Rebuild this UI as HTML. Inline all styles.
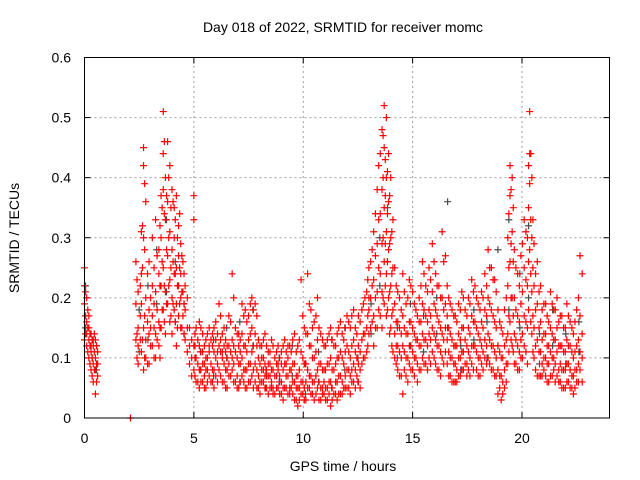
<!DOCTYPE html>
<html><head><meta charset="utf-8"><style>
body{margin:0;background:#fff}
svg{display:block;font-family:"Liberation Sans",sans-serif}
</style></head><body>
<svg id="chart" width="640" height="480">
<text x="343" y="32" text-anchor="middle" font-size="14">Day 018 of 2022, SRMTID for receiver momc</text>
<text x="343" y="471" text-anchor="middle" font-size="14">GPS time / hours</text>
<text transform="translate(19,238) rotate(-90)" text-anchor="middle" font-size="14">SRMTID / TECUs</text>
<g id="grid"></g><g id="ticks"></g><g id="gray"></g><g id="red"></g>
<rect x="84.5" y="57.5" width="525" height="360.5" fill="none" stroke="#000" stroke-width="1"/>
</svg>
<script>
const xTicks=[0,5,10,15,20];
const yTicks=[0,0.1,0.2,0.3,0.4,0.5,0.6];
const yTickLabels=["0","0.1","0.2","0.3","0.4","0.5","0.6"];
const redT=[0,0.1,0.2,0.3,0.4,0.5,0.6,2.1,2.35,2.45,2.6,2.7,2.8,2.95,3.1,3.25,3.4,3.5,3.6,3.7,3.8,3.9,4.0,4.1,4.2,4.3,4.4,4.5,4.6,4.8,4.9,5.0,5.1,5.25,5.4,5.55,5.7,5.85,6.0,6.15,6.3,6.45,6.6,6.75,6.9,7.05,7.2,7.35,7.5,7.65,7.8,7.95,8.1,8.25,8.4,8.55,8.7,8.85,9.0,9.15,9.3,9.45,9.6,9.75,9.9,10.05,10.2,10.35,10.5,10.65,10.8,10.95,11.1,11.25,11.4,11.55,11.7,11.85,12.0,12.15,12.3,12.45,12.6,12.75,12.9,13.0,13.15,13.3,13.45,13.6,13.7,13.8,13.9,14.0,14.1,14.25,14.4,14.55,14.7,14.85,15.0,15.15,15.3,15.45,15.6,15.75,15.9,16.05,16.2,16.35,16.5,16.65,16.8,16.95,17.1,17.25,17.4,17.55,17.7,17.85,18.0,18.15,18.3,18.45,18.6,18.75,18.9,19.05,19.2,19.35,19.45,19.55,19.65,19.8,19.95,20.1,20.25,20.35,20.45,20.55,20.7,20.85,21.0,21.15,21.3,21.45,21.6,21.75,21.9,22.05,22.2,22.35,22.5,22.65,22.75];
const redY=[[.25,.19,.13,.22],[.16,.12,.20,.14],[.15,.10,.13,.17],[.12,.08,.14,.11],[.09,.13,.06,.12],[.10,.04,.13,.08],[.11,.07,.09],[0.0],[.26,.19,.13],[.21,.12,.15,.09],[.31,.19,.11,.24],[.45,.42,.30,.15,.08],[.36,.20,.10,.13],[.26,.14,.09,.18],[.30,.17,.12,.22],[.33,.21,.14,.10],[.28,.16,.24,.12],[.37,.22,.15,.30],[.51,.44,.38,.25,.18],[.40,.33,.21,.14],[.46,.36,.27,.19],[.42,.31,.23,.16],[.38,.28,.20,.14],[.35,.30,.24,.18],[.37,.25,.19,.12],[.32,.22,.27,.17],[.29,.24,.20,.15],[.26,.21,.17],[.22,.18,.13],[.12,.09,.15],[.13,.07,.10],[.37,.33,.12,.08],[.15,.10,.06],[.16,.12,.08,.05],[.14,.09,.11,.06],[.13,.08,.10,.05],[.15,.11,.07,.12],[.12,.08,.14,.06],[.16,.10,.07,.13],[.19,.12,.08],[.14,.10,.06,.11],[.13,.08,.11,.05],[.17,.12,.07,.09],[.24,.13,.08,.10],[.15,.11,.06],[.12,.09,.05,.14],[.19,.14,.10,.07],[.18,.12,.08,.05],[.17,.13,.09,.06],[.20,.15,.11,.07],[.19,.14,.09,.06],[.13,.10,.07,.05],[.12,.08,.06,.10],[.14,.09,.05,.07],[.11,.07,.04,.09],[.13,.08,.05,.06],[.10,.07,.04],[.12,.08,.05,.09],[.11,.06,.04,.09],[.13,.09,.05],[.10,.07,.04,.12],[.11,.08,.05],[.14,.09,.06,.03],[.12,.07,.05,.02],[.23,.11,.06,.04],[.15,.09,.05,.03],[.24,.14,.08,.05],[.18,.12,.07,.04],[.16,.10,.06,.03],[.20,.13,.08,.05],[.14,.09,.05,.03],[.12,.08,.04,.06],[.13,.09,.05,.03],[.15,.10,.06,.02],[.12,.08,.04],[.14,.10,.06,.03],[.16,.11,.07,.04],[.13,.09,.05],[.17,.12,.08,.05],[.15,.10,.07,.04],[.18,.13,.09,.06],[.14,.10,.07],[.16,.11,.08,.05],[.19,.14,.10],[.21,.15,.11],[.25,.18,.14,.20],[.28,.22,.16],[.34,.27,.20,.15],[.42,.33,.25,.18],[.48,.38,.29,.21,.15],[.52,.45,.35,.26,.19],[.50,.40,.31,.24,.17],[.44,.36,.28,.20],[.40,.30,.22,.15],[.33,.25,.18,.11],[.22,.16,.12,.09],[.20,.15,.11,.07],[.24,.17,.12,.04],[.19,.14,.10,.07],[.23,.16,.12,.09],[.21,.15,.11,.08],[.18,.13,.10],[.20,.16,.12,.08],[.26,.19,.14,.10],[.22,.17,.13,.09],[.25,.18,.14,.10],[.29,.21,.15,.11],[.24,.18,.13,.09],[.22,.16,.12,.08],[.31,.20,.14,.10],[.27,.19,.15,.11],[.20,.15,.11,.07],[.18,.13,.10,.06],[.17,.12,.09,.06],[.19,.14,.10,.07],[.21,.15,.11,.08],[.18,.13,.09],[.20,.15,.11,.08],[.23,.17,.12,.09],[.22,.16,.12],[.19,.14,.10,.07],[.21,.16,.12,.09],[.24,.18,.13,.10],[.28,.20,.14,.10],[.25,.18,.12,.08],[.23,.16,.11,.07],[.18,.12,.08,.04],[.15,.10,.07,.03],[.18,.12,.08,.05],[.30,.22,.14,.09],[.42,.37,.26,.16],[.40,.31,.20,.12],[.28,.20,.14,.09],[.24,.17,.12,.08],[.27,.19,.13,.10],[.33,.25,.17,.12],[.30,.22,.15,.09],[.51,.44,.39,.28],[.40,.30,.21,.14],[.29,.22,.15,.10],[.26,.19,.13,.07],[.22,.16,.11,.07],[.19,.14,.10,.08],[.17,.12,.09,.06],[.21,.15,.11,.07],[.18,.13,.10,.08],[.20,.15,.11,.07],[.17,.12,.09,.06],[.15,.11,.08,.05],[.19,.13,.09,.06],[.16,.12,.08,.05],[.14,.10,.07,.04],[.18,.12,.08,.06],[.27,.17,.11,.08],[.24,.14,.10,.06]];
const redT2=[0.05,0.15,0.25,0.35,0.45,0.55,2.4,2.55,2.65,2.75,2.88,3.02,3.18,3.32,3.45,3.55,3.65,3.75,3.85,3.95,4.05,4.15,4.25,4.35,4.45,4.55,4.7,5.05,5.18,5.32,5.48,5.62,5.78,5.92,6.08,6.22,6.38,6.52,6.68,6.82,6.98,7.12,7.28,7.42,7.58,7.72,7.88,8.02,8.18,8.32,8.48,8.62,8.78,8.92,9.08,9.22,9.38,9.52,9.68,9.82,9.98,10.12,10.28,10.42,10.58,10.72,10.88,11.02,11.18,11.32,11.48,11.62,11.78,11.92,12.08,12.22,12.38,12.52,12.68,12.82,12.95,13.08,13.22,13.38,13.52,13.65,13.75,13.85,13.95,14.05,14.18,14.32,14.48,14.62,14.78,14.92,15.08,15.22,15.38,15.52,15.68,15.82,15.98,16.12,16.28,16.42,16.58,16.72,16.88,17.02,17.18,17.32,17.48,17.62,17.78,17.92,18.08,18.22,18.38,18.52,18.68,18.82,18.98,19.12,19.28,19.4,19.5,19.6,19.72,19.88,20.02,20.18,20.3,20.4,20.5,20.62,20.78,20.92,21.08,21.22,21.38,21.52,21.68,21.82,21.98,22.12,22.28,22.42,22.58,22.7];
const redY2=[[.21,.17,.14],[.18,.11,.15],[.14,.12,.09],[.13,.10,.07],[.11,.08,.14],[.12,.06,.09],[.23,.14,.10],[.17,.13,.22],[.32,.25,.13],[.39,.28,.17,.10],[.24,.16,.09],[.20,.12,.15],[.25,.15,.10,.19],[.27,.18,.13],[.32,.22,.15,.10],[.35,.26,.18],[.46,.34,.22,.16],[.37,.28,.19],[.40,.30,.22],[.35,.25,.17],[.36,.26,.19],[.33,.24,.16],[.30,.22,.15],[.34,.25,.19],[.27,.21,.15],[.24,.19,.14],[.20,.15,.11],[.14,.10,.07,.12],[.13,.09,.06],[.15,.11,.08,.06],[.12,.09,.07,.05],[.14,.10,.06,.08],[.13,.09,.06],[.15,.11,.08,.05],[.14,.09,.06,.11],[.17,.11,.07,.13],[.15,.09,.06,.12],[.12,.08,.05,.10],[.16,.11,.07],[.20,.12,.09,.06],[.14,.10,.07,.05],[.13,.09,.06,.11],[.17,.12,.08,.06],[.16,.11,.08,.05],[.19,.14,.09,.06],[.18,.12,.08,.05],[.17,.12,.08,.05],[.12,.09,.06,.04],[.13,.08,.06,.10],[.12,.08,.05,.07],[.11,.07,.05,.09],[.12,.08,.05,.04],[.11,.07,.05,.09],[.10,.07,.04,.06],[.12,.08,.05,.03],[.11,.07,.05,.09],[.12,.08,.05,.04],[.13,.09,.06,.04],[.11,.07,.05,.03],[.13,.08,.05,.03],[.17,.10,.06,.04],[.14,.09,.06,.03],[.19,.12,.07,.05],[.15,.10,.06,.04],[.17,.11,.07,.04],[.15,.09,.06,.03],[.13,.08,.05,.04],[.12,.08,.05,.03],[.14,.09,.06,.04],[.13,.08,.05,.03],[.12,.09,.06,.04],[.15,.10,.07,.04],[.14,.10,.06,.04],[.15,.11,.07,.05],[.16,.11,.08,.05],[.17,.12,.08,.06],[.15,.11,.08,.05],[.17,.12,.09,.06],[.18,.13,.09],[.20,.14,.10],[.23,.17,.12],[.26,.20,.15],[.31,.23,.17,.12],[.38,.29,.21,.15],[.44,.34,.24,.17],[.47,.40,.30,.20],[.43,.37,.29,.22],[.41,.34,.26,.18],[.37,.29,.21,.14],[.31,.24,.17,.12],[.25,.19,.14,.10],[.21,.16,.12,.08],[.18,.14,.10,.07],[.21,.15,.11,.08],[.20,.14,.10,.06],[.22,.16,.12,.08],[.19,.14,.10,.07],[.17,.13,.09,.06],[.22,.16,.12,.08],[.24,.18,.13,.09],[.21,.16,.12,.08],[.23,.17,.13,.09],[.26,.19,.14,.10],[.22,.17,.12,.08],[.20,.15,.11,.07],[.26,.18,.13,.09],[.22,.17,.13,.09],[.19,.14,.10,.07],[.17,.12,.09,.06],[.16,.12,.08,.06],[.18,.13,.10,.07],[.20,.15,.11,.08],[.17,.12,.09,.07],[.19,.14,.10,.07],[.21,.16,.12,.08],[.20,.15,.11,.08],[.18,.13,.10,.07],[.20,.15,.11,.08],[.22,.17,.12,.09],[.25,.19,.13,.09],[.23,.17,.12,.08],[.21,.15,.10,.07],[.16,.11,.07,.05],[.14,.10,.06,.04],[.20,.13,.09,.06],[.34,.25,.17,.11],[.38,.29,.20,.13],[.35,.26,.17,.11],[.25,.18,.13,.09],[.22,.16,.11,.08],[.29,.21,.14,.10],[.31,.23,.16,.11],[.42,.35,.26,.18],[.44,.33,.24,.16],[.33,.25,.17,.11],[.24,.18,.12,.08],[.21,.15,.11,.07],[.18,.13,.09,.07],[.19,.14,.10,.07],[.16,.12,.09,.06],[.19,.14,.10,.07],[.18,.13,.09,.06],[.16,.12,.08,.06],[.17,.12,.08,.05],[.15,.11,.08,.05],[.17,.12,.09,.06],[.15,.11,.07,.05],[.16,.11,.08,.05],[.20,.13,.09,.06]];
const grayT=[0.05,0.35,0.55,2.5,2.9,3.3,3.75,4.15,4.55,5.3,5.9,6.5,7.1,7.7,8.3,8.9,9.5,10.1,10.7,11.3,11.9,12.5,13.1,13.5,13.85,14.3,14.9,15.5,16.1,16.6,17.2,17.8,18.4,18.9,19.4,19.9,20.3,20.8,21.4,22.0,22.6];
const grayY=[[.22,.15],[.10,.13],[.08,.12],[.18,.11],[.13,.22],[.19,.28],[.33,.21],[.26,.16],[.14,.19],[.11,.08],[.13,.07],[.10,.15],[.16,.06],[.12,.18],[.08,.05],[.10,.06],[.07,.12],[.04,.09],[.11,.06],[.05,.13],[.08,.15],[.10,.06],[.19,.14],[.30,.22],[.35,.26],[.15,.10],[.12,.19],[.17,.11],[.14,.20],[.36,.15],[.12,.08],[.18,.13],[.10,.16],[.28,.12],[.33,.18],[.15,.24],[.32,.20],[.14,.09],[.12,.18],[.09,.14],[.11,.16]];

const X0=84.5,X1=609.5,Y0=418,Y1=57.5;
const xs=t=>X0+(X1-X0)*t/24;
const ys=v=>Y0-(Y0-Y1)*v/0.6;
const NS="http://www.w3.org/2000/svg";
const gGrid=document.getElementById('grid'),gTicks=document.getElementById('ticks');
function mk(tag,attrs,parent){const e=document.createElementNS(NS,tag);for(const k in attrs)e.setAttribute(k,attrs[k]);parent.appendChild(e);return e;}
xTicks.forEach(t=>{
  const x=xs(t);
  if(t>0){const g=mk('line',{x1:x,x2:x,y1:Y0,y2:Y1,stroke:'#a0a0a0','stroke-dasharray':'2,3'},gGrid);
  
  }
  mk('line',{x1:x,x2:x,y1:Y0,y2:Y0-6,stroke:'#000'},gTicks);
  mk('line',{x1:x,x2:x,y1:Y1,y2:Y1+6,stroke:'#000'},gTicks);
  const l=mk('text',{x:x,y:443,'text-anchor':'middle','font-size':'14'},gTicks);l.textContent=t;
  
  
});
yTicks.forEach((v,i)=>{
  const y=ys(v);
  if(v>0&&v<0.6){const g=mk('line',{x1:X0,x2:X1,y1:y,y2:y,stroke:'#a0a0a0','stroke-dasharray':'2,3'},gGrid);
  
  }
  mk('line',{x1:X0,x2:X0+6,y1:y,y2:y,stroke:'#000'},gTicks);
  mk('line',{x1:X1,x2:X1-6,y1:y,y2:y,stroke:'#000'},gTicks);
  const l=mk('text',{x:71,y:y+5,'text-anchor':'end','font-size':'14'},gTicks);l.textContent=yTickLabels[i];
  
  
});
function plot(T,Y,color,gid,name){
  const g=document.getElementById(gid);let d='';
  T.forEach((t,i)=>(Y[i]||[]).forEach(v=>{const x=xs(t),y=ys(v);d+=`M${x-3.5},${y}h7M${x},${y-3.5}v7`;}));
  const p=mk('path',{d:d,stroke:color,'stroke-width':'1.2',fill:'none'},g);
  
  
}
plot(grayT,grayY,'#4a4a4a','gray','gray-series-points');
plot(redT,redY,'#ff0000','red','red-series-points');
plot(redT2,redY2,'#ff0000','red','red-series-points-extra');
</script>
</body></html>
